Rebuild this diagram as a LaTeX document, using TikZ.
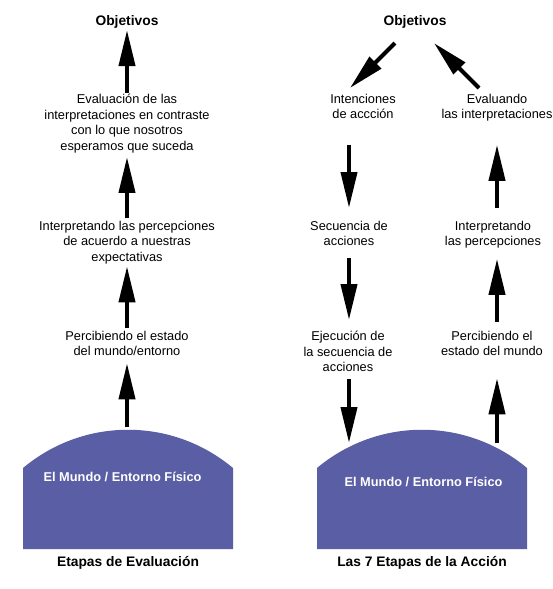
\documentclass[tikz,border=0pt]{standalone}
\usepackage{fontspec}
\setmainfont{Liberation Sans}
\usetikzlibrary{arrows.meta}
\definecolor{worldblue}{RGB}{90,94,164}
\begin{document}
\begin{tikzpicture}[x=1pt,y=-1pt,
  lbl/.style={font=\fontsize{12.8}{15.5}\selectfont, align=center, inner sep=0pt, anchor=north},
  ttl/.style={font=\bfseries\fontsize{13.8}{16}\selectfont, inner sep=0pt, anchor=base},
  wlbl/.style={font=\bfseries\fontsize{12.8}{15}\selectfont, text=white, inner sep=0pt, anchor=base},
  arr/.style={line width=4pt, -{Triangle[length=36pt,width=16pt]}},
  world/.style={fill=worldblue, draw=none}]
\useasboundingbox (0,0) rectangle (552,589);
\fill[white] (0,0) rectangle (552,589);

% ---------- worlds ----------
\path[world] (23,549) -- (23,468) .. controls (84,417) and (172,417) .. (233,468) -- (233,549) -- cycle;
\path[world] (317,549) -- (317,468) .. controls (378,417) and (466,417) .. (527,468) -- (527,549) -- cycle;
\coordinate (wtopL) at (127,430);
\coordinate (inR) at (349,443);
\coordinate (outR) at (497,443);
\node[wlbl] (worldL) at (122.5,481.6) {El Mundo / Entorno Físico};
\node[wlbl] (worldR) at (423.5,486.6) {El Mundo / Entorno Físico};

% ---------- left column ----------
\node[ttl] (objL) at (127,25) {Objetivos};
\node[lbl] (evalL) at (127,94) {Evaluación de las\\interpretaciones en contraste\\con lo que nosotros\\esperamos que suceda};
\node[lbl] (interpL) at (127,221) {Interpretando las percepciones\\de acuerdo a nuestras\\expectativas};
\node[lbl] (percL) at (127,331) {Percibiendo el estado\\del mundo/entorno};
\node[ttl] (capL) at (128,566) {Etapas de Evaluación};

\draw[arr] ([shift={(0,-1)}]evalL.north) -- ([shift={(0,2)}]objL.south);
\draw[arr] ([shift={(0,-3)}]interpL.north) -- ([shift={(0,4)}]evalL.south);
\draw[arr] ([shift={(0,-3)}]percL.north) -- ([shift={(0,2)}]interpL.south);
\draw[arr] ([shift={(0,-3)}]wtopL) -- ([shift={(0,7)}]percL.south);

% ---------- right column ----------
\node[ttl] (objR) at (415,25) {Objetivos};
\node[lbl] (intent) at (363,94) {Intenciones\\de accción};
\node[lbl] (evalR) at (497,94) {Evaluando\\las interpretaciones};
\node[lbl] (seq) at (349,221) {Secuencia de\\acciones};
\node[lbl] (interpR) at (493,221) {Interpretando\\las percepciones};
\node[lbl] (exec) at (348,331) {Ejecución de\\la secuencia de\\acciones};
\node[lbl] (percR) at (492,331) {Percibiendo el\\estado del mundo};
\node[ttl] (capR) at (422,566) {Las 7 Etapas de la Acción};

\draw[arr] ([shift={(-20,15)}]objR.south) -- ([shift={(-13,-6)}]intent.north);
\draw[arr] ([shift={(-18,-6)}]evalR.north) -- ([shift={(19,15)}]objR.south);

\draw[arr] ([shift={(-14,25.5)}]intent.south) -- ([shift={(0,-13)}]seq.north);
\draw[arr] ([shift={(0,11.5)}]seq.south) -- ([shift={(1,-11)}]exec.north);
\draw[arr] ([shift={(1,7.5)}]exec.south) -- (inR);

\draw[arr] (outR) -- ([shift={(5,22)}]percR.south);
\draw[arr] ([shift={(5,-9)}]percR.north) -- ([shift={(4,10)}]interpR.south);
\draw[arr] ([shift={(4,-13)}]interpR.north) -- ([shift={(0,23)}]evalR.south);
\end{tikzpicture}
\end{document}
